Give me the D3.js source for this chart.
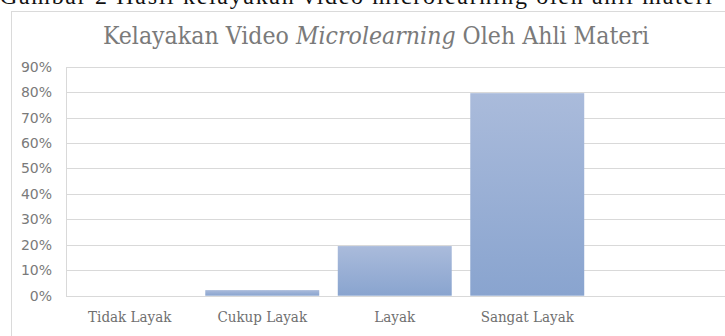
<!DOCTYPE html>
<html>
<head>
<meta charset="utf-8">
<script src="https://cdn.jsdelivr.net/npm/d3@7"></script>
<style>
  html, body { margin: 0; padding: 0; background: #fff; overflow: hidden; }
  svg { display: block; }
</style>
</head>
<body>
<svg id="chart" width="725" height="336"></svg>
<script>
// data
const categories = ['Tidak Layak', 'Cukup Layak', 'Layak', 'Sangat Layak'];
const values = [0, 0.022, 0.195, 0.796];
const yTicks = [0, 0.1, 0.2, 0.3, 0.4, 0.5, 0.6, 0.7, 0.8, 0.9];
const caption = 'Gambar 2 Hasil kelayakan video microlearning oleh ahli materi';

const svg = d3.select('#chart');
const plot = {left: 66, right: 725, top: 66.7, bottom: 295.7};

// bar gradient
const grad = svg.append('defs').append('linearGradient')
	.attr('id', 'barGrad')
	.attr('x1', 0).attr('y1', 0).attr('x2', 0).attr('y2', 1);
grad.append('stop').attr('offset', '0%').attr('stop-color', '#aabbdb');
grad.append('stop').attr('offset', '100%').attr('stop-color', '#89a4cf');

// page caption, only its lower part shows at the top
svg.append('text')
	.attr('x', 0)
	.attr('y', 4)
	.attr('font-family', 'Liberation Serif, serif')
	.attr('font-size', 24)
	.attr('fill', '#111')
	.attr('textLength', 712)
	.text(caption);

// chart frame
svg.append('rect')
	.attr('x', 11.5).attr('y', 11.5)
	.attr('width', 730).attr('height', 340)
	.attr('fill', '#fff')
	.attr('stroke', '#dadada');

// title
const title = svg.append('text')
	.attr('x', 376)
	.attr('y', 44)
	.attr('text-anchor', 'middle')
	.attr('font-family', 'DejaVu Serif Condensed, DejaVu Serif, serif')
	.attr('font-size', 24.6)
	.attr('fill', '#7a7a7a');
title.append('tspan').text('Kelayakan Video ');
title.append('tspan').attr('font-style', 'italic').text('Microlearning');
title.append('tspan').text(' Oleh Ahli Materi');

const x = d3.scaleBand()
	.domain(categories)
	.range([63.5, 593.5])
	.paddingInner(0.14)
	.paddingOuter(0.07);

const y = d3.scaleLinear()
	.domain([0, 0.9])
	.range([plot.bottom, plot.top]);

// gridlines
svg.append('g')
	.selectAll('line')
	.data(yTicks)
	.join('line')
	.attr('x1', plot.left)
	.attr('x2', plot.right)
	.attr('y1', d => Math.round(y(d)) + 0.5)
	.attr('y2', d => Math.round(y(d)) + 0.5)
	.attr('stroke', '#d9d9d9')
	.attr('stroke-width', 1.2);

// y axis
const yAxis = svg.append('g')
	.attr('transform', 'translate(' + plot.left + ',0)')
	.call(d3.axisLeft(y).tickValues(yTicks).tickFormat(d3.format('.0%')).tickSize(0).tickPadding(14));
yAxis.select('.domain').attr('stroke', '#d9d9d9');
yAxis.selectAll('text')
	.attr('font-family', 'DejaVu Sans, sans-serif')
	.attr('font-size', 14)
	.attr('fill', '#7a7a7a');

// bars
svg.append('g')
	.selectAll('rect')
	.data(values)
	.join('rect')
	.attr('x', (d, i) => x(categories[i]))
	.attr('y', d => y(d))
	.attr('width', x.bandwidth())
	.attr('height', d => y(0) - y(d))
	.attr('fill', 'url(#barGrad)');

// x axis labels
const xAxis = svg.append('g')
	.attr('transform', 'translate(0,' + plot.bottom + ')')
	.call(d3.axisBottom(x).tickSize(0).tickPadding(16));
xAxis.select('.domain').remove();
xAxis.selectAll('text')
	.attr('font-family', 'DejaVu Serif Condensed, DejaVu Serif, serif')
	.attr('font-size', 15)
	.attr('fill', '#6f6f6f');
</script>
</body>
</html>
